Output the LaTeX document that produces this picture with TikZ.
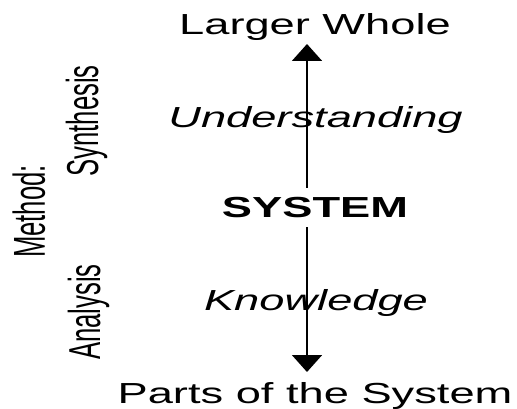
\documentclass[tikz,border=0pt]{standalone}
\usepackage{fontspec}
\setmainfont{Liberation Sans}
\usetikzlibrary{arrows.meta}
\begin{document}
\begin{tikzpicture}[x=1pt,y=-1pt,
  hlabel/.style={inner sep=0pt, anchor=base, xscale=1.56, font=\fontsize{29}{30}\selectfont},
  rlabel/.style={inner sep=0pt, anchor=base, xscale=1.74, rotate=90, font=\fontsize{25.7}{27}\selectfont},
  axis/.style={line width=1.8pt, -{Triangle[width=30pt,length=17pt]}}]
\useasboundingbox[fill=white] (0,0) rectangle (517,409);
\node[hlabel] (lw) at (315,35) {Larger Whole};
\node[hlabel] (und) at (315.5,128) {\itshape Understanding};
\node[hlabel] (sys) at (315,218) {\bfseries SYSTEM};
\node[hlabel] (know) at (316,310) {\itshape Knowledge};
\node[hlabel] (parts) at (315,403) {Parts of the System};
\node[rlabel] (meth) at (45,211.5) {Method:};
\node[rlabel] (syn) at (98,121) {Synthesis};
\node[rlabel] (ana) at (100,312) {Analysis};
\coordinate (upstart) at (307,188);
\coordinate (uptip) at (307,44);
\coordinate (downstart) at (307,227);
\coordinate (downtip) at (307,372);
\draw[axis] (upstart) -- (uptip);
\draw[axis] (downstart) -- (downtip);
\end{tikzpicture}
\end{document}
